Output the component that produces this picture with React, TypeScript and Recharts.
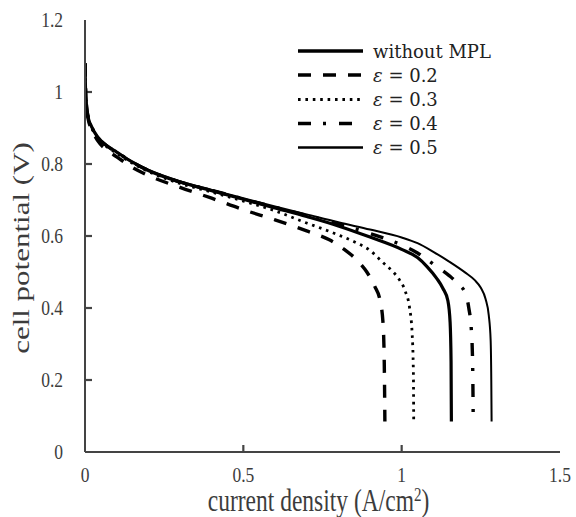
import React from 'react';
import { LineChart, Line, XAxis, YAxis, Legend, ReferenceLine } from 'recharts';

// ---- data ----
const seriesNames = ['without MPL', 'ε = 0.2', 'ε = 0.3', 'ε = 0.4', 'ε = 0.5'];

const noMplX = [0, 0.001, 0.004, 0.01, 0.02, 0.04, 0.07, 0.1, 0.15, 0.2, 0.3, 0.4, 0.5, 0.6, 0.7, 0.8, 0.9, 1.0, 1.05, 1.08, 1.11, 1.13, 1.146, 1.153, 1.156, 1.157];
const noMplY = [1.08, 1.03, 0.97, 0.93, 0.905, 0.875, 0.85, 0.833, 0.805, 0.782, 0.75, 0.726, 0.702, 0.678, 0.654, 0.628, 0.597, 0.563, 0.54, 0.515, 0.483, 0.455, 0.42, 0.36, 0.25, 0.085];

const eps02X = [0, 0.001, 0.004, 0.01, 0.02, 0.04, 0.07, 0.1, 0.15, 0.2, 0.3, 0.4, 0.5, 0.6, 0.7, 0.77, 0.82, 0.86, 0.89, 0.915, 0.932, 0.941, 0.945, 0.947];
const eps02Y = [1.08, 1.03, 0.965, 0.925, 0.898, 0.865, 0.838, 0.82, 0.79, 0.768, 0.735, 0.705, 0.673, 0.645, 0.614, 0.59, 0.562, 0.532, 0.5, 0.46, 0.42, 0.36, 0.25, 0.085];

const eps03X = [0, 0.001, 0.004, 0.01, 0.02, 0.04, 0.07, 0.1, 0.15, 0.2, 0.3, 0.4, 0.5, 0.6, 0.7, 0.75, 0.8, 0.85, 0.9, 0.94, 0.97, 0.99, 1.012, 1.025, 1.033, 1.037, 1.038];
const eps03Y = [1.08, 1.03, 0.97, 0.93, 0.903, 0.872, 0.847, 0.83, 0.802, 0.779, 0.746, 0.722, 0.697, 0.67, 0.636, 0.62, 0.603, 0.584, 0.56, 0.527, 0.503, 0.482, 0.445, 0.4, 0.33, 0.22, 0.085];

const eps04X = [0, 0.001, 0.004, 0.01, 0.02, 0.04, 0.07, 0.1, 0.15, 0.2, 0.3, 0.4, 0.5, 0.6, 0.7, 0.8, 0.9, 1.0, 1.05, 1.1, 1.15, 1.18, 1.2, 1.212, 1.22, 1.224, 1.226];
const eps04Y = [1.08, 1.03, 0.97, 0.93, 0.905, 0.875, 0.85, 0.833, 0.805, 0.782, 0.75, 0.727, 0.703, 0.68, 0.657, 0.634, 0.607, 0.575, 0.553, 0.522, 0.49, 0.465, 0.443, 0.4, 0.34, 0.25, 0.085];

const eps05X = [0, 0.001, 0.004, 0.01, 0.02, 0.04, 0.07, 0.1, 0.15, 0.2, 0.3, 0.4, 0.5, 0.6, 0.7, 0.8, 0.9, 1.0, 1.05, 1.1, 1.15, 1.2, 1.23, 1.25, 1.265, 1.275, 1.281, 1.283, 1.284];
const eps05Y = [1.08, 1.03, 0.97, 0.93, 0.905, 0.875, 0.85, 0.834, 0.806, 0.784, 0.752, 0.728, 0.705, 0.682, 0.66, 0.638, 0.618, 0.596, 0.58, 0.556, 0.529, 0.499, 0.478, 0.456, 0.425, 0.38, 0.31, 0.2, 0.085];

const xTicks = [0, 0.5, 1, 1.5];
const yTicks = [0, 0.2, 0.4, 0.6, 0.8, 1, 1.2];
const xTickLabels = ['0', '0.5', '1', '1.5'];
const yTickLabels = ['0', '0.2', '0.4', '0.6', '0.8', '1', '1.2'];

const makeData = (xs: number[], ys: number[]) => xs.map((x, i) => ({ x, y: ys[i] }));

const seriesData = [
  makeData(noMplX, noMplY),
  makeData(eps02X, eps02Y),
  makeData(eps03X, eps03Y),
  makeData(eps04X, eps04Y),
  makeData(eps05X, eps05Y),
];

const lineStyles = [
  { width: 3.2, dash: undefined as string | undefined },
  { width: 3.4, dash: '13 12' },
  { width: 2.8, dash: '2.6 4.8' },
  { width: 3.4, dash: '13 12 3 13' },
  { width: 2, dash: undefined as string | undefined },
];

const FONT = '"Liberation Serif", serif';
const LEGEND_FONT = '"DejaVu Serif", serif';
const TEXT_COLOR = '#3c3c3c';
const AXIS_COLOR = '#444';
const X_TICK_MARGIN = 15;
const Y_TICK_MARGIN = 22;

// inward tick-mark length expressed in axis units (≈7px for a 475x432 plot)
const X_MAX = 1.5;
const Y_MAX = 1.2;
const TICK_PX = 7;
const PLOT_W = 475;
const PLOT_H = 432;
const tickDx = (TICK_PX / PLOT_W) * X_MAX;
const tickDy = (TICK_PX / PLOT_H) * Y_MAX;

const fmt = (v: number, ticks: number[], labels: string[]) => {
  const i = ticks.findIndex((t) => Math.abs(t - v) < 1e-9);
  return i >= 0 ? labels[i] : String(v);
};

const XTick = (props: any) => {
  const { x, y, payload } = props;
  return (
    <g transform={`translate(${x},${y})`}>
      <text transform="scale(1,1.18)" textAnchor="middle" dy="0.72em" fontFamily={FONT} fontSize={17.5} fill={TEXT_COLOR}>
        {fmt(payload.value, xTicks, xTickLabels)}
      </text>
    </g>
  );
};

const YTick = (props: any) => {
  const { x, y, payload } = props;
  return (
    <g transform={`translate(${x},${y})`}>
      <text transform="scale(1,1.18)" textAnchor="end" dy="0.34em" fontFamily={FONT} fontSize={17.5} fill={TEXT_COLOR}>
        {fmt(payload.value, yTicks, yTickLabels)}
      </text>
    </g>
  );
};

const YTitle = (props: any) => {
  const vb = props.viewBox || { x: 0, y: 20, width: 85, height: 432 };
  const cx = vb.x + 29;
  const cy = vb.y + vb.height / 2 + 12;
  return (
    <text transform={`translate(${cx},${cy}) scale(1,1.32) rotate(-90)`} textAnchor="middle" fontFamily={FONT} fontSize={23.5} fill={TEXT_COLOR}>
      cell potential (V)
    </text>
  );
};

const XTitle = (props: any) => {
  const vb = props.viewBox || { x: 85, y: 452, width: 475, height: 65 };
  const cx = vb.x + vb.width / 2 - 4;
  const cy = vb.y + 59;
  return (
    <text transform={`translate(${cx},${cy}) scale(1,1.3)`} textAnchor="middle" fontFamily={FONT} fontSize={23.5} fill={TEXT_COLOR}>
      current density (A/cm<tspan fontSize={15} dy={-8}>2</tspan><tspan dy={8}>)</tspan>
    </text>
  );
};

const LegendContent = (props: any) => {
  const payload = props.payload || [];
  const rowY = [16, 40, 64.5, 88.5, 112.5];
  return (
    <svg width={230} height={130} style={{ display: 'block', overflow: 'visible' }}>
      {payload.map((entry: any, i: number) => {
        const st = lineStyles[i];
        const name: string = entry.value;
        const y = rowY[i];
        return (
          <g key={name}>
            <line x1={8} x2={73} y1={y} y2={y} stroke="#000" strokeWidth={st.width + 0.3} strokeDasharray={st.dash} />
            <text x={83} y={y + 6.5} fontFamily={LEGEND_FONT} fontSize={18} fill="#222">
              {name.startsWith('ε') ? (
                <>
                  <tspan fontStyle="italic">ε</tspan>
                  {name.slice(1)}
                </>
              ) : (
                name
              )}
            </text>
          </g>
        );
      })}
    </svg>
  );
};

export default function App() {
  return (
    <div style={{ position: 'absolute', left: 0, top: 0, width: 576, height: 517, background: '#fff' }}>
      <LineChart width={576} height={517} margin={{ top: 20, right: 16, bottom: 0, left: 0 }}>
        <XAxis
          dataKey="x"
          type="number"
          domain={[0, X_MAX]}
          ticks={xTicks}
          allowDataOverflow
          height={65}
          axisLine={{ stroke: AXIS_COLOR, strokeWidth: 2 }}
          tickLine={false}
          tickSize={0}
          tickMargin={X_TICK_MARGIN}
          tick={<XTick />}
          label={<XTitle />}
        />
        <XAxis
          xAxisId="top"
          orientation="top"
          type="number"
          domain={[0, X_MAX]}
          allowDataOverflow
          height={0}
          axisLine={{ stroke: AXIS_COLOR, strokeWidth: 1.6 }}
          tickLine={false}
          tick={false}
        />
        <YAxis
          type="number"
          domain={[0, Y_MAX]}
          ticks={yTicks}
          allowDataOverflow
          width={85}
          axisLine={{ stroke: AXIS_COLOR, strokeWidth: 2 }}
          tickLine={false}
          tickSize={0}
          tickMargin={Y_TICK_MARGIN}
          tick={<YTick />}
          label={<YTitle />}
        />
        <YAxis
          yAxisId="right"
          orientation="right"
          type="number"
          domain={[0, Y_MAX]}
          allowDataOverflow
          width={0}
          axisLine={{ stroke: AXIS_COLOR, strokeWidth: 1.6 }}
          tickLine={false}
          tick={false}
        />
        {yTicks.slice(1, -1).map((v) => (
          <ReferenceLine
            key={`yt${v}`}
            segment={[{ x: 0, y: v }, { x: tickDx, y: v }]}
            stroke={AXIS_COLOR}
            strokeWidth={2.2}
            ifOverflow="visible"
          />
        ))}
        {xTicks.slice(1, -1).map((v) => (
          <ReferenceLine
            key={`xt${v}`}
            segment={[{ x: v, y: 0 }, { x: v, y: tickDy }]}
            stroke={AXIS_COLOR}
            strokeWidth={2.2}
            ifOverflow="visible"
          />
        ))}
        {seriesData.map((d, i) => (
          <Line
            key={seriesNames[i]}
            data={d}
            dataKey="y"
            name={seriesNames[i]}
            type="monotone"
            stroke="#000"
            strokeWidth={lineStyles[i].width}
            strokeDasharray={lineStyles[i].dash}
            dot={false}
            activeDot={false}
            isAnimationActive={false}
          />
        ))}
        <Legend
          layout="vertical"
          align="center"
          verticalAlign="middle"
          content={<LegendContent />}
          wrapperStyle={{ position: 'absolute', left: 290, top: 35, width: 230, height: 130 }}
        />
      </LineChart>
    </div>
  );
}
